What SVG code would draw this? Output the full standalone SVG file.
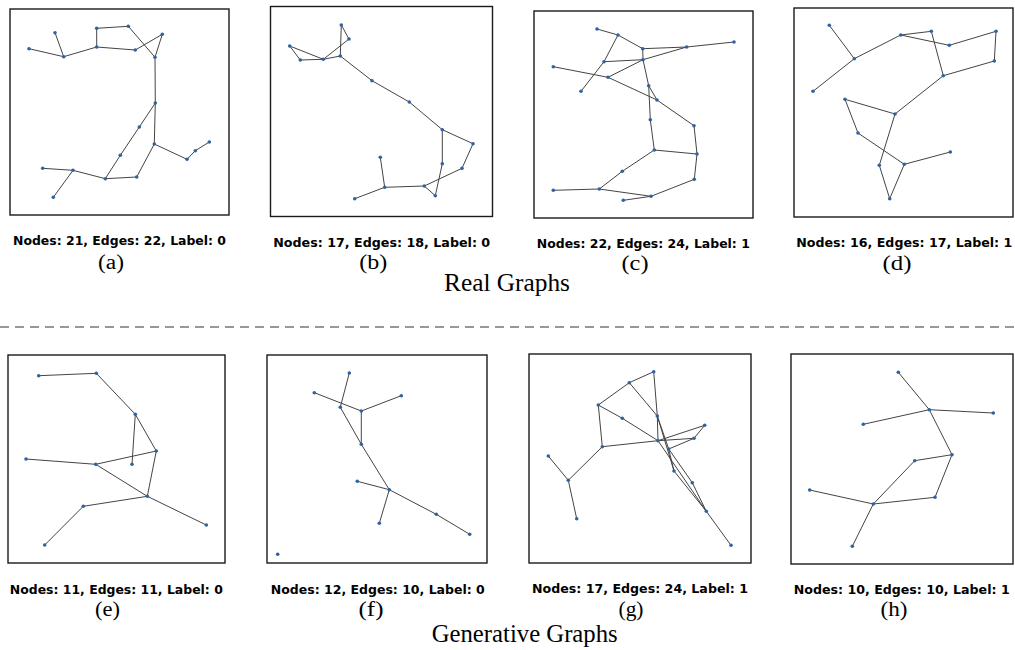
<svg xmlns="http://www.w3.org/2000/svg" width="1015" height="650" viewBox="0 0 1015 650">
<style>
.frame{fill:#fff;stroke:#1a1a1a;stroke-width:1.4}
.e line{stroke:#444;stroke-width:1;fill:none}
.n circle{fill:#2f62a0}
.cap{font-family:"DejaVu Sans",sans-serif;font-weight:bold;font-size:12px;fill:#000;text-anchor:middle}
.sub{font-family:"Liberation Serif",serif;font-size:20px;fill:#000;text-anchor:middle}
.ttl{font-family:"Liberation Serif",serif;font-size:25px;fill:#000;text-anchor:middle}
</style>
<rect width="1015" height="650" fill="#fff"/>

<!-- (a) -->
<g id="panel-a">
<rect class="frame" x="10" y="9" width="219" height="206"/>
<g class="e" id="a-edges">
<line x1="55" y1="32.7" x2="63.7" y2="56.7"/><line x1="29" y1="48.7" x2="63.7" y2="56.7"/>
<line x1="63.7" y1="56.7" x2="96.7" y2="47"/><line x1="96.7" y1="47" x2="96.7" y2="28.3"/>
<line x1="96.7" y1="28.3" x2="128.3" y2="26.3"/><line x1="96.7" y1="47" x2="135.3" y2="50"/>
<line x1="135.3" y1="50" x2="162.3" y2="34.3"/><line x1="128.3" y1="26.3" x2="155" y2="57.3"/>
<line x1="162.3" y1="34.3" x2="155" y2="57.3"/><line x1="155" y1="57.3" x2="155.3" y2="103"/>
<line x1="155.3" y1="103" x2="139.3" y2="127"/><line x1="139.3" y1="127" x2="120.3" y2="155.3"/>
<line x1="120.3" y1="155.3" x2="105.3" y2="178.7"/><line x1="155.3" y1="103" x2="154.3" y2="144"/>
<line x1="154.3" y1="144" x2="136.7" y2="177"/><line x1="136.7" y1="177" x2="105.3" y2="178.7"/>
<line x1="105.3" y1="178.7" x2="73" y2="170.3"/><line x1="73" y1="170.3" x2="42.7" y2="168.3"/>
<line x1="73" y1="170.3" x2="53.3" y2="197.3"/><line x1="154.3" y1="144" x2="187" y2="159.3"/>
<line x1="187" y1="159.3" x2="195.3" y2="150.7"/><line x1="195.3" y1="150.7" x2="209.3" y2="142"/>
</g>
<g class="n" id="a-nodes">
<circle id="a1" cx="55" cy="32.7" r="1.8"/><circle id="a2" cx="29" cy="48.7" r="1.8"/><circle id="a3" cx="63.7" cy="56.7" r="1.8"/>
<circle id="a4" cx="96.7" cy="28.3" r="1.8"/><circle id="a5" cx="128.3" cy="26.3" r="1.8"/><circle id="a6" cx="96.7" cy="47" r="1.8"/>
<circle id="a7" cx="135.3" cy="50" r="1.8"/><circle id="a8" cx="162.3" cy="34.3" r="1.8"/><circle id="a9" cx="155" cy="57.3" r="1.8"/>
<circle id="a10" cx="155.3" cy="103" r="1.8"/><circle id="a11" cx="139.3" cy="127" r="1.8"/><circle id="a12" cx="120.3" cy="155.3" r="1.8"/>
<circle id="a13" cx="154.3" cy="144" r="1.8"/><circle id="a14" cx="187" cy="159.3" r="1.8"/><circle id="a15" cx="195.3" cy="150.7" r="1.8"/>
<circle id="a16" cx="209.3" cy="142" r="1.8"/><circle id="a17" cx="42.7" cy="168.3" r="1.8"/><circle id="a18" cx="73" cy="170.3" r="1.8"/>
<circle id="a19" cx="53.3" cy="197.3" r="1.8"/><circle id="a20" cx="105.3" cy="178.7" r="1.8"/><circle id="a21" cx="136.7" cy="177" r="1.8"/>
</g>
<text class="cap" x="119.5" y="244.5" textLength="213" lengthAdjust="spacingAndGlyphs">Nodes: 21, Edges: 22, Label: 0</text>
<text class="sub" x="111" y="268.5" textLength="26" lengthAdjust="spacingAndGlyphs">(a)</text>
</g>

<!-- (b) -->
<g id="panel-b">
<rect class="frame" x="270.5" y="6.5" width="222" height="210"/>
<g class="e" id="b-edges">
<line x1="341.3" y1="25" x2="349" y2="39"/><line x1="341.3" y1="25" x2="340.3" y2="56"/>
<line x1="349" y1="39" x2="323.3" y2="59.3"/><line x1="289.7" y1="46" x2="300.3" y2="60"/>
<line x1="289.7" y1="46" x2="323.3" y2="59.3"/><line x1="300.3" y1="60" x2="323.3" y2="59.3"/>
<line x1="323.3" y1="59.3" x2="340.3" y2="56"/><line x1="340.3" y1="56" x2="372" y2="80.7"/>
<line x1="372" y1="80.7" x2="409.3" y2="102"/><line x1="409.3" y1="102" x2="442.3" y2="129.7"/>
<line x1="442.3" y1="129.7" x2="473" y2="143.7"/><line x1="473" y1="143.7" x2="462" y2="168.3"/>
<line x1="462" y1="168.3" x2="424.3" y2="186"/><line x1="442.3" y1="129.7" x2="442.3" y2="163.7"/>
<line x1="442.3" y1="163.7" x2="435.3" y2="195.7"/><line x1="435.3" y1="195.7" x2="424.3" y2="186"/>
<line x1="424.3" y1="186" x2="384.7" y2="187.3"/><line x1="384.7" y1="187.3" x2="380.3" y2="157.3"/>
<line x1="384.7" y1="187.3" x2="354.7" y2="198.7"/>
</g>
<g class="n" id="b-nodes">
<circle id="b1" cx="341.3" cy="25" r="1.8"/><circle id="b2" cx="349" cy="39" r="1.8"/><circle id="b3" cx="289.7" cy="46" r="1.8"/>
<circle id="b4" cx="300.3" cy="60" r="1.8"/><circle id="b5" cx="323.3" cy="59.3" r="1.8"/><circle id="b6" cx="340.3" cy="56" r="1.8"/>
<circle id="b7" cx="372" cy="80.7" r="1.8"/><circle id="b8" cx="409.3" cy="102" r="1.8"/><circle id="b9" cx="442.3" cy="129.7" r="1.8"/>
<circle id="b10" cx="473" cy="143.7" r="1.8"/><circle id="b11" cx="462" cy="168.3" r="1.8"/><circle id="b12" cx="442.3" cy="163.7" r="1.8"/>
<circle id="b13" cx="424.3" cy="186" r="1.8"/><circle id="b14" cx="435.3" cy="195.7" r="1.8"/><circle id="b15" cx="380.3" cy="157.3" r="1.8"/>
<circle id="b16" cx="384.7" cy="187.3" r="1.8"/><circle id="b17" cx="354.7" cy="198.7" r="1.8"/>
</g>
<text class="cap" x="381.7" y="246.5" textLength="217" lengthAdjust="spacingAndGlyphs">Nodes: 17, Edges: 18, Label: 0</text>
<text class="sub" x="373.3" y="268.5" textLength="28" lengthAdjust="spacingAndGlyphs">(b)</text>
</g>

<!-- (c) -->
<g id="panel-c">
<rect class="frame" x="534" y="11" width="219" height="207"/>
<g class="e" id="c-edges">
<line x1="597" y1="29" x2="618" y2="35"/><line x1="618" y1="35" x2="642.7" y2="48.7"/>
<line x1="642.7" y1="48.7" x2="686.7" y2="47"/><line x1="686.7" y1="47" x2="734" y2="42"/>
<line x1="618" y1="35" x2="604" y2="61.7"/><line x1="604" y1="61.7" x2="581" y2="91.3"/>
<line x1="604" y1="61.7" x2="643" y2="59.7"/><line x1="608" y1="77.3" x2="643" y2="59.7"/>
<line x1="643" y1="59.7" x2="686.7" y2="47"/><line x1="553.3" y1="66.7" x2="608" y2="77.3"/>
<line x1="608" y1="77.3" x2="657" y2="100"/><line x1="657" y1="100" x2="694" y2="125.7"/>
<line x1="642.7" y1="48.7" x2="643" y2="59.7"/><line x1="643" y1="59.7" x2="648.7" y2="85.7"/>
<line x1="648.7" y1="85.7" x2="657" y2="100"/><line x1="648.7" y1="85.7" x2="650.3" y2="119.7"/>
<line x1="650.3" y1="119.7" x2="654.3" y2="150"/><line x1="694" y1="125.7" x2="697" y2="154"/>
<line x1="654.3" y1="150" x2="697" y2="154"/><line x1="697" y1="154" x2="694.3" y2="179.3"/>
<line x1="654.3" y1="150" x2="622.3" y2="171.3"/><line x1="622.3" y1="171.3" x2="599.3" y2="189"/>
<line x1="553.3" y1="190.3" x2="599.3" y2="189"/><line x1="599.3" y1="189" x2="651" y2="196.3"/>
<line x1="651" y1="196.3" x2="694.3" y2="179.3"/><line x1="623.3" y1="200.3" x2="651" y2="196.3"/>
</g>
<g class="n" id="c-nodes">
<circle id="c1" cx="597" cy="29" r="1.8"/><circle id="c2" cx="618" cy="35" r="1.8"/><circle id="c3" cx="642.7" cy="48.7" r="1.8"/>
<circle id="c4" cx="686.7" cy="47" r="1.8"/><circle id="c5" cx="734" cy="42" r="1.8"/><circle id="c6" cx="643" cy="59.7" r="1.8"/>
<circle id="c7" cx="604" cy="61.7" r="1.8"/><circle id="c8" cx="553.3" cy="66.7" r="1.8"/><circle id="c9" cx="608" cy="77.3" r="1.8"/>
<circle id="c10" cx="581" cy="91.3" r="1.8"/><circle id="c11" cx="648.7" cy="85.7" r="1.8"/><circle id="c12" cx="657" cy="100" r="1.8"/>
<circle id="c13" cx="650.3" cy="119.7" r="1.8"/><circle id="c14" cx="694" cy="125.7" r="1.8"/><circle id="c15" cx="654.3" cy="150" r="1.8"/>
<circle id="c16" cx="697" cy="154" r="1.8"/><circle id="c17" cx="622.3" cy="171.3" r="1.8"/><circle id="c18" cx="694.3" cy="179.3" r="1.8"/>
<circle id="c19" cx="553.3" cy="190.3" r="1.8"/><circle id="c20" cx="599.3" cy="189" r="1.8"/><circle id="c21" cx="651" cy="196.3" r="1.8"/>
<circle id="c22" cx="623.3" cy="200.3" r="1.8"/>
</g>
<text class="cap" x="643.3" y="248" textLength="213" lengthAdjust="spacingAndGlyphs">Nodes: 22, Edges: 24, Label: 1</text>
<text class="sub" x="635" y="270" textLength="27" lengthAdjust="spacingAndGlyphs">(c)</text>
</g>

<!-- (d) -->
<g id="panel-d">
<rect class="frame" x="794" y="8" width="219" height="209"/>
<g class="e" id="d-edges">
<line x1="829.3" y1="25.3" x2="854.3" y2="58.7"/><line x1="854.3" y1="58.7" x2="813" y2="91.3"/>
<line x1="854.3" y1="58.7" x2="900.7" y2="35"/><line x1="900.7" y1="35" x2="931.3" y2="31.3"/>
<line x1="900.7" y1="35" x2="949.3" y2="45.3"/><line x1="949.3" y1="45.3" x2="996" y2="31.3"/>
<line x1="996" y1="31.3" x2="994.3" y2="61"/><line x1="994.3" y1="61" x2="943.3" y2="75.7"/>
<line x1="931.3" y1="31.3" x2="943.3" y2="75.7"/><line x1="943.3" y1="75.7" x2="895" y2="114"/>
<line x1="895" y1="114" x2="845" y2="99.3"/><line x1="845" y1="99.3" x2="858" y2="133"/>
<line x1="858" y1="133" x2="904.3" y2="164.3"/><line x1="895" y1="114" x2="879.3" y2="165.3"/>
<line x1="879.3" y1="165.3" x2="889.7" y2="198.7"/><line x1="889.7" y1="198.7" x2="904.3" y2="164.3"/>
<line x1="904.3" y1="164.3" x2="950.3" y2="152"/>
</g>
<g class="n" id="d-nodes">
<circle id="d1" cx="829.3" cy="25.3" r="1.8"/><circle id="d2" cx="854.3" cy="58.7" r="1.8"/><circle id="d3" cx="813" cy="91.3" r="1.8"/>
<circle id="d4" cx="900.7" cy="35" r="1.8"/><circle id="d5" cx="931.3" cy="31.3" r="1.8"/><circle id="d6" cx="949.3" cy="45.3" r="1.8"/>
<circle id="d7" cx="996" cy="31.3" r="1.8"/><circle id="d8" cx="994.3" cy="61" r="1.8"/><circle id="d9" cx="943.3" cy="75.7" r="1.8"/>
<circle id="d10" cx="845" cy="99.3" r="1.8"/><circle id="d11" cx="895" cy="114" r="1.8"/><circle id="d12" cx="858" cy="133" r="1.8"/>
<circle id="d13" cx="879.3" cy="165.3" r="1.8"/><circle id="d14" cx="904.3" cy="164.3" r="1.8"/><circle id="d15" cx="950.3" cy="152" r="1.8"/>
<circle id="d16" cx="889.7" cy="198.7" r="1.8"/>
</g>
<text class="cap" x="904.3" y="246.5" textLength="216" lengthAdjust="spacingAndGlyphs">Nodes: 16, Edges: 17, Label: 1</text>
<text class="sub" x="897" y="270" textLength="29" lengthAdjust="spacingAndGlyphs">(d)</text>
</g>

<text class="ttl" x="507" y="291" textLength="126" lengthAdjust="spacingAndGlyphs">Real Graphs</text>
<line id="divider" x1="0" y1="327" x2="1015" y2="327" stroke="#777" stroke-width="1.5" stroke-dasharray="9,6"/>

<!-- (e) -->
<g id="panel-e">
<rect class="frame" x="8" y="355" width="217" height="208"/>
<g class="e" id="e-edges">
<line x1="38.7" y1="375.7" x2="96.3" y2="373.3"/><line x1="96.3" y1="373.3" x2="135.3" y2="414.3"/>
<line x1="135.3" y1="414.3" x2="156.3" y2="451"/><line x1="135.3" y1="414.3" x2="132" y2="464.3"/>
<line x1="26" y1="459" x2="95.7" y2="464.3"/><line x1="95.7" y1="464.3" x2="156.3" y2="451"/>
<line x1="156.3" y1="451" x2="147.3" y2="496.3"/><line x1="95.7" y1="464.3" x2="147.3" y2="496.3"/>
<line x1="147.3" y1="496.3" x2="83.3" y2="506.3"/><line x1="83.3" y1="506.3" x2="44.7" y2="545"/>
<line x1="147.3" y1="496.3" x2="206.3" y2="525"/>
</g>
<g class="n" id="e-nodes">
<circle id="e1" cx="38.7" cy="375.7" r="1.8"/><circle id="e2" cx="96.3" cy="373.3" r="1.8"/><circle id="e3" cx="135.3" cy="414.3" r="1.8"/>
<circle id="e4" cx="156.3" cy="451" r="1.8"/><circle id="e5" cx="132" cy="464.3" r="1.8"/><circle id="e6" cx="26" cy="459" r="1.8"/>
<circle id="e7" cx="95.7" cy="464.3" r="1.8"/><circle id="e8" cx="147.3" cy="496.3" r="1.8"/><circle id="e9" cx="83.3" cy="506.3" r="1.8"/>
<circle id="e10" cx="206.3" cy="525" r="1.8"/><circle id="e11" cx="44.7" cy="545" r="1.8"/>
</g>
<text class="cap" x="116.3" y="593.5" textLength="213" lengthAdjust="spacingAndGlyphs">Nodes: 11, Edges: 11, Label: 0</text>
<text class="sub" x="107.5" y="615.5" textLength="25" lengthAdjust="spacingAndGlyphs">(e)</text>
</g>

<!-- (f) -->
<g id="panel-f">
<rect class="frame" x="267" y="355" width="220" height="208"/>
<g class="e" id="f-edges">
<line x1="349.3" y1="373" x2="340.3" y2="407.3"/><line x1="314.3" y1="392.7" x2="361.3" y2="411"/>
<line x1="361.3" y1="411" x2="401.3" y2="395.7"/><line x1="361.3" y1="411" x2="361.3" y2="444.3"/>
<line x1="340.3" y1="407.3" x2="361.3" y2="444.3"/><line x1="361.3" y1="444.3" x2="389.3" y2="489.7"/>
<line x1="357.3" y1="481.3" x2="389.3" y2="489.7"/><line x1="389.3" y1="489.7" x2="379.3" y2="523.3"/>
<line x1="389.3" y1="489.7" x2="436.3" y2="514.3"/><line x1="436.3" y1="514.3" x2="469.7" y2="534.3"/>
</g>
<g class="n" id="f-nodes">
<circle id="f1" cx="349.3" cy="373" r="1.8"/><circle id="f2" cx="314.3" cy="392.7" r="1.8"/><circle id="f3" cx="401.3" cy="395.7" r="1.8"/>
<circle id="f4" cx="340.3" cy="407.3" r="1.8"/><circle id="f5" cx="361.3" cy="411" r="1.8"/><circle id="f6" cx="361.3" cy="444.3" r="1.8"/>
<circle id="f7" cx="357.3" cy="481.3" r="1.8"/><circle id="f8" cx="389.3" cy="489.7" r="1.8"/><circle id="f9" cx="436.3" cy="514.3" r="1.8"/>
<circle id="f10" cx="379.3" cy="523.3" r="1.8"/><circle id="f11" cx="469.7" cy="534.3" r="1.8"/><circle id="f12" cx="277.7" cy="554.3" r="1.8"/>
</g>
<text class="cap" x="377.8" y="594" textLength="214" lengthAdjust="spacingAndGlyphs">Nodes: 12, Edges: 10, Label: 0</text>
<text class="sub" x="371" y="615.5" textLength="25" lengthAdjust="spacingAndGlyphs">(f)</text>
</g>

<!-- (g) -->
<g id="panel-g">
<rect class="frame" x="529" y="354" width="222" height="209"/>
<g class="e" id="g-edges">
<line x1="653.7" y1="371.7" x2="629.3" y2="382.7"/><line x1="653.7" y1="371.7" x2="657.3" y2="416"/>
<line x1="629.3" y1="382.7" x2="598.3" y2="405"/><line x1="629.3" y1="382.7" x2="657.3" y2="416"/>
<line x1="598.3" y1="405" x2="622.3" y2="418.3"/><line x1="622.3" y1="418.3" x2="658" y2="440.7"/>
<line x1="598.3" y1="405" x2="602.3" y2="446.7"/><line x1="602.3" y1="446.7" x2="658" y2="440.7"/>
<line x1="658" y1="440.7" x2="694" y2="438.3"/><line x1="658" y1="440.7" x2="704.7" y2="425.3"/>
<line x1="704.7" y1="425.3" x2="694" y2="438.3"/><line x1="694" y1="438.3" x2="668.7" y2="449"/>
<line x1="657.3" y1="416" x2="658" y2="440.7"/><line x1="657.3" y1="416" x2="674" y2="471"/>
<line x1="657.3" y1="416" x2="668.7" y2="449"/><line x1="668.7" y1="449" x2="674" y2="471"/>
<line x1="658" y1="440.7" x2="706.3" y2="511.3"/><line x1="674" y1="471" x2="706.3" y2="511.3"/>
<line x1="668.7" y1="449" x2="692.3" y2="482.7"/><line x1="692.3" y1="482.7" x2="706.3" y2="511.3"/>
<line x1="706.3" y1="511.3" x2="731" y2="545.3"/><line x1="602.3" y1="446.7" x2="568.3" y2="480.3"/>
<line x1="548.3" y1="456" x2="568.3" y2="480.3"/><line x1="568.3" y1="480.3" x2="576.7" y2="518.7"/>
</g>
<g class="n" id="g-nodes">
<circle id="g1" cx="653.7" cy="371.7" r="1.8"/><circle id="g2" cx="629.3" cy="382.7" r="1.8"/><circle id="g3" cx="598.3" cy="405" r="1.8"/>
<circle id="g4" cx="622.3" cy="418.3" r="1.8"/><circle id="g5" cx="657.3" cy="416" r="1.8"/><circle id="g6" cx="704.7" cy="425.3" r="1.8"/>
<circle id="g7" cx="694" cy="438.3" r="1.8"/><circle id="g8" cx="658" cy="440.7" r="1.8"/><circle id="g9" cx="668.7" cy="449" r="1.8"/>
<circle id="g10" cx="602.3" cy="446.7" r="1.8"/><circle id="g11" cx="674" cy="471" r="1.8"/><circle id="g12" cx="692.3" cy="482.7" r="1.8"/>
<circle id="g13" cx="548.3" cy="456" r="1.8"/><circle id="g14" cx="568.3" cy="480.3" r="1.8"/><circle id="g15" cx="706.3" cy="511.3" r="1.8"/>
<circle id="g16" cx="576.7" cy="518.7" r="1.8"/><circle id="g17" cx="731" cy="545.3" r="1.8"/>
</g>
<text class="cap" x="640" y="592.5" textLength="216" lengthAdjust="spacingAndGlyphs">Nodes: 17, Edges: 24, Label: 1</text>
<text class="sub" x="631" y="615.5" textLength="25" lengthAdjust="spacingAndGlyphs">(g)</text>
</g>

<!-- (h) -->
<g id="panel-h">
<rect class="frame" x="791" y="354" width="222" height="210"/>
<g class="e" id="h-edges">
<line x1="898.3" y1="372.3" x2="929.3" y2="409.7"/><line x1="929.3" y1="409.7" x2="993.3" y2="413"/>
<line x1="929.3" y1="409.7" x2="863.3" y2="424.3"/><line x1="929.3" y1="409.7" x2="952" y2="454.7"/>
<line x1="952" y1="454.7" x2="914.7" y2="460.7"/><line x1="914.7" y1="460.7" x2="873.3" y2="504"/>
<line x1="952" y1="454.7" x2="935" y2="497.3"/><line x1="935" y1="497.3" x2="873.3" y2="504"/>
<line x1="809.7" y1="490" x2="873.3" y2="504"/><line x1="873.3" y1="504" x2="852.3" y2="546.3"/>
</g>
<g class="n" id="h-nodes">
<circle id="h1" cx="898.3" cy="372.3" r="1.8"/><circle id="h2" cx="929.3" cy="409.7" r="1.8"/><circle id="h3" cx="993.3" cy="413" r="1.8"/>
<circle id="h4" cx="863.3" cy="424.3" r="1.8"/><circle id="h5" cx="952" cy="454.7" r="1.8"/><circle id="h6" cx="914.7" cy="460.7" r="1.8"/>
<circle id="h7" cx="809.7" cy="490" r="1.8"/><circle id="h8" cx="935" cy="497.3" r="1.8"/><circle id="h9" cx="873.3" cy="504" r="1.8"/>
<circle id="h10" cx="852.3" cy="546.3" r="1.8"/>
</g>
<text class="cap" x="901.7" y="594" textLength="216" lengthAdjust="spacingAndGlyphs">Nodes: 10, Edges: 10, Label: 1</text>
<text class="sub" x="894" y="615.5" textLength="27" lengthAdjust="spacingAndGlyphs">(h)</text>
</g>

<text class="ttl" x="524.7" y="641.5" textLength="186" lengthAdjust="spacingAndGlyphs">Generative Graphs</text>
</svg>
